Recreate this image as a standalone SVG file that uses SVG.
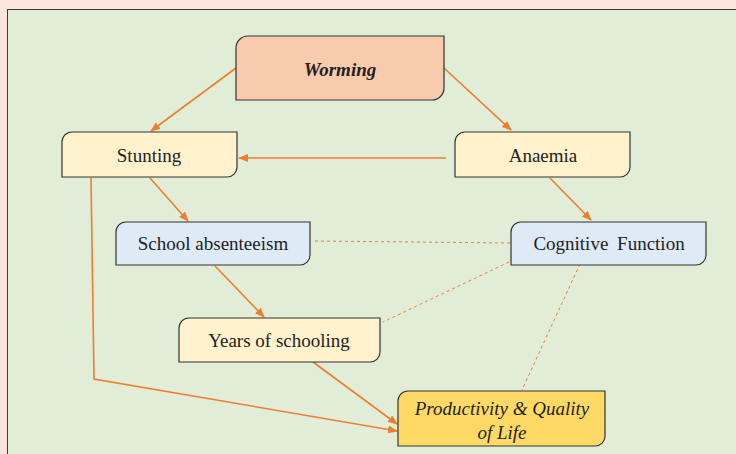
<svg xmlns="http://www.w3.org/2000/svg" width="736" height="454" viewBox="0 0 736 454">
<defs>
<marker id="ah" markerWidth="10" markerHeight="8" refX="9" refY="4" orient="auto" markerUnits="userSpaceOnUse">
<path d="M0,0 L10,4 L0,8 z" fill="#ED7D31"/>
</marker>
<style>
.box{stroke:#333;stroke-width:1.2}
.t{font-family:"Liberation Serif",serif;font-size:19px;fill:#222;text-anchor:middle}
.ti{font-style:italic}
.c{stroke:#ED7D31;stroke-width:1.6;fill:none}
.d{stroke:#ED7D31;stroke-width:1;fill:none;stroke-dasharray:3,3}
</style>
</defs>
<rect x="0" y="0" width="736" height="454" fill="#FCE6DF"/>
<rect x="7.5" y="9.5" width="740" height="460" fill="#E1EDD7" stroke="#3a3a3a" stroke-width="1"/>
<g id="connectors">
<line class="c" x1="236" y1="68" x2="151" y2="131" marker-end="url(#ah)"/>
<line class="c" x1="444" y1="68" x2="511" y2="130" marker-end="url(#ah)"/>
<line class="c" x1="446" y1="158" x2="239" y2="158" marker-end="url(#ah)"/>
<line class="c" x1="150" y1="178" x2="188" y2="221" marker-end="url(#ah)"/>
<line class="c" x1="550" y1="178" x2="591" y2="220" marker-end="url(#ah)"/>
<line class="c" x1="215" y1="266" x2="264" y2="317" marker-end="url(#ah)"/>
<line class="c" x1="313" y1="362" x2="397" y2="424" marker-end="url(#ah)"/>
<polyline class="c" points="91,178 94,379 397,431" marker-end="url(#ah)"/>
<line class="d" x1="315" y1="241" x2="511" y2="243"/>
<line class="d" x1="509" y1="262" x2="383" y2="322"/>
<line class="d" x1="580" y1="264" x2="522" y2="390"/>
</g>
<g id="worming">
<path class="box" fill="#F8CBAD" d="M248,36 H444 V88 A12,12 0 0 1 432,100 H236 V48 A12,12 0 0 1 248,36 Z"/>
<text class="t ti" x="340" y="76" font-weight="bold">Worming</text>
</g>
<g id="stunting">
<path class="box" fill="#FFF2CC" d="M72,132 H237 V167 A10,10 0 0 1 227,177 H62 V142 A10,10 0 0 1 72,132 Z"/>
<text class="t" x="149" y="162">Stunting</text>
</g>
<g id="anaemia">
<path class="box" fill="#FFF2CC" d="M465,132 H630 V167 A10,10 0 0 1 620,177 H455 V142 A10,10 0 0 1 465,132 Z"/>
<text class="t" x="543" y="162">Anaemia</text>
</g>
<g id="absenteeism">
<path class="box" fill="#DEEBF7" d="M126,222 H310 V255 A10,10 0 0 1 300,265 H116 V232 A10,10 0 0 1 126,222 Z"/>
<text class="t" x="213" y="250">School absenteeism</text>
</g>
<g id="cognitive">
<path class="box" fill="#DEEBF7" d="M521,222 H706 V255 A10,10 0 0 1 696,265 H511 V232 A10,10 0 0 1 521,222 Z"/>
<text class="t" x="609" y="250" word-spacing="4">Cognitive Function</text>
</g>
<g id="schooling">
<path class="box" fill="#FFF2CC" d="M189,318 H380 V352 A10,10 0 0 1 370,362 H179 V328 A10,10 0 0 1 189,318 Z"/>
<text class="t" x="279" y="347">Years of schooling</text>
</g>
<g id="productivity">
<path class="box" fill="#FFD966" d="M408,391 H605 V436 A10,10 0 0 1 595,446 H398 V401 A10,10 0 0 1 408,391 Z"/>
<text class="t ti" x="502" y="415">Productivity &amp; Quality</text>
<text class="t ti" x="502" y="439">of Life</text>
</g>
</svg>
